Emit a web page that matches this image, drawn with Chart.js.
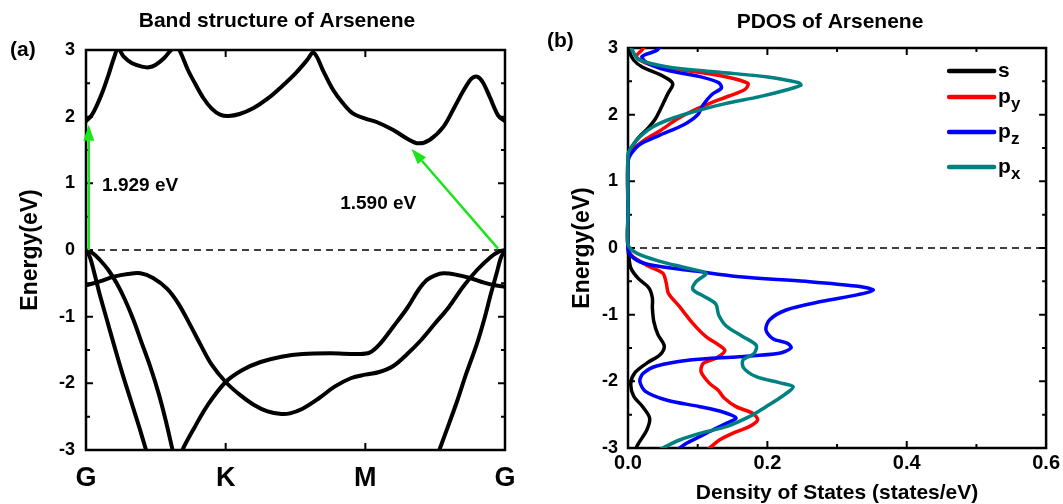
<!DOCTYPE html>
<html>
<head>
<meta charset="utf-8">
<title>Arsenene band structure and PDOS</title>
<script src="https://cdn.jsdelivr.net/npm/chart.js@4.4.1/dist/chart.umd.min.js"></script>
<style>
  body { margin: 0; background: #fff; }
  #wrap { position: relative; width: 1063px; height: 504px; }
  canvas { position: absolute; top: 0; }
</style>
</head>
<body>
<div id="wrap">
  <canvas id="band" width="540" height="504" style="left:0"></canvas>
  <canvas id="pdos" width="523" height="504" style="left:540px"></canvas>
</div>
<script>
// high symmetry points along the path
const kLabels = ['G', 'K', 'M', 'G'];

// bands, [k, E(eV)]
const condBand = [[0,1.93],[0.04,2.02],[0.08,2.18],[0.12,2.38],[0.16,2.62],[0.2,2.88],[0.23,3.02],[0.27,2.9],[0.33,2.8],[0.4,2.75],[0.45,2.74],[0.5,2.78],[0.56,2.88],[0.61,3.0],[0.65,3.05],[0.68,2.95],[0.73,2.7],[0.78,2.5],[0.84,2.28],[0.9,2.12],[0.96,2.03],[1.02,2.01],[1.1,2.04],[1.2,2.13],[1.3,2.27],[1.4,2.45],[1.5,2.65],[1.58,2.84],[1.63,2.96],[1.7,2.68],[1.77,2.4],[1.84,2.2],[1.91,2.05],[2.0,1.97],[2.08,1.92],[2.2,1.8],[2.3,1.67],[2.38,1.6],[2.46,1.65],[2.56,1.85],[2.64,2.15],[2.7,2.38],[2.76,2.57],[2.8,2.6],[2.84,2.52],[2.89,2.3],[2.95,2.02],[3,1.93]];
const valBandA = [[0,0],[0.03,-0.12],[0.06,-0.35],[0.1,-0.68],[0.15,-1.05],[0.2,-1.42],[0.26,-1.85],[0.32,-2.25],[0.38,-2.65],[0.43,-3.0],[0.48,-3.35]];
const valBandB = [[0,0],[0.05,-0.05],[0.1,-0.15],[0.16,-0.3],[0.22,-0.5],[0.28,-0.75],[0.34,-1.05],[0.4,-1.4],[0.46,-1.75],[0.52,-2.15],[0.57,-2.55],[0.62,-3.0],[0.66,-3.35]];
const valBandC = [[0,-0.53],[0.1,-0.47],[0.2,-0.4],[0.3,-0.36],[0.39,-0.35],[0.48,-0.42],[0.58,-0.58],[0.66,-0.8],[0.74,-1.1],[0.82,-1.42],[0.9,-1.72],[1.0,-1.98],[1.1,-2.17],[1.2,-2.32],[1.3,-2.42],[1.4,-2.46],[1.46,-2.45],[1.55,-2.38],[1.67,-2.22],[1.78,-2.05],[1.9,-1.92],[2.0,-1.87],[2.1,-1.83],[2.2,-1.74],[2.3,-1.56],[2.4,-1.35],[2.5,-1.1],[2.6,-0.85],[2.7,-0.55],[2.8,-0.3],[2.9,-0.1],[2.96,-0.02],[3,0]];
const valBandD = [[0.62,-3.35],[0.69,-3.0],[0.78,-2.65],[0.87,-2.33],[1.0,-1.98],[1.12,-1.8],[1.25,-1.68],[1.4,-1.6],[1.55,-1.56],[1.75,-1.55],[1.95,-1.56],[2.03,-1.54],[2.1,-1.42],[2.2,-1.15],[2.3,-0.87],[2.38,-0.6],[2.44,-0.45],[2.5,-0.38],[2.56,-0.35],[2.65,-0.37],[2.75,-0.42],[2.85,-0.49],[2.93,-0.53],[3,-0.55]];
const valBandE = [[3,0],[2.97,-0.12],[2.94,-0.35],[2.9,-0.65],[2.85,-1.05],[2.8,-1.4],[2.72,-1.87],[2.66,-2.25],[2.6,-2.6],[2.53,-3.0],[2.47,-3.35]];

// band gap arrows [k0, E0, k1, E1] and their labels
const gapArrows = [[0.02, 0, 0.02, 1.88], [2.95, 0.02, 2.33, 1.52]];
const gapLabels = ['1.929 eV', '1.590 eV'];
const gapLabelAt = [[0.115, 0.96], [1.82, 0.69]];

// projected DOS, [states/eV, E(eV)]
const dosS = [[0,3.1],[0.002,2.95],[0.008,2.82],[0.021,2.71],[0.046,2.6],[0.062,2.5],[0.064,2.44],[0.058,2.33],[0.052,2.2],[0.046,2.07],[0.039,1.93],[0.029,1.8],[0.013,1.63],[0.004,1.48],[0,1.35],[0,0.5],[0,0],[0.001,-0.1],[0.004,-0.3],[0.015,-0.46],[0.03,-0.6],[0.035,-0.75],[0.035,-0.9],[0.037,-1.1],[0.043,-1.3],[0.052,-1.47],[0.046,-1.6],[0.028,-1.72],[0.01,-1.87],[0.004,-2.03],[0.008,-2.22],[0.021,-2.38],[0.031,-2.55],[0.027,-2.73],[0.014,-2.95],[0.008,-3.1]];
const dosPy = [[0.03,3.1],[0.02,2.97],[0.012,2.87],[0.03,2.76],[0.079,2.67],[0.14,2.57],[0.172,2.47],[0.168,2.38],[0.145,2.28],[0.12,2.18],[0.095,2.07],[0.07,1.93],[0.046,1.76],[0.025,1.63],[0.007,1.48],[0,1.35],[0,0.5],[0,0],[0.007,-0.13],[0.031,-0.28],[0.05,-0.38],[0.055,-0.53],[0.058,-0.68],[0.074,-0.88],[0.093,-1.13],[0.112,-1.33],[0.131,-1.46],[0.139,-1.54],[0.127,-1.65],[0.108,-1.73],[0.105,-1.86],[0.117,-2.03],[0.13,-2.14],[0.138,-2.25],[0.155,-2.38],[0.179,-2.48],[0.186,-2.58],[0.174,-2.68],[0.15,-2.78],[0.131,-2.88],[0.117,-3.0],[0.1,-3.1]];
const dosPz = [[0.05,3.1],[0.042,2.97],[0.02,2.87],[0.03,2.76],[0.055,2.67],[0.103,2.57],[0.13,2.48],[0.134,2.4],[0.12,2.3],[0.108,2.15],[0.1,2.0],[0.08,1.85],[0.045,1.69],[0.018,1.56],[0.005,1.42],[0,1.3],[0,0.5],[0,0],[0.008,-0.15],[0.031,-0.25],[0.1,-0.35],[0.16,-0.43],[0.255,-0.5],[0.327,-0.57],[0.352,-0.63],[0.33,-0.7],[0.279,-0.8],[0.227,-0.93],[0.203,-1.08],[0.198,-1.23],[0.208,-1.36],[0.229,-1.43],[0.234,-1.5],[0.217,-1.58],[0.16,-1.63],[0.089,-1.68],[0.041,-1.77],[0.022,-1.88],[0.017,-2.0],[0.025,-2.15],[0.055,-2.28],[0.103,-2.38],[0.136,-2.46],[0.155,-2.55],[0.141,-2.63],[0.112,-2.78],[0.084,-2.93],[0.074,-3.0],[0.06,-3.1]];
const dosPx = [[0,3.1],[0.006,2.97],[0.015,2.83],[0.055,2.72],[0.127,2.64],[0.198,2.57],[0.245,2.48],[0.248,2.44],[0.227,2.37],[0.189,2.27],[0.141,2.17],[0.103,2.07],[0.065,1.95],[0.036,1.82],[0.017,1.67],[0.005,1.52],[0,1.4],[0,0.5],[0,0.05],[0.013,-0.08],[0.046,-0.2],[0.084,-0.3],[0.112,-0.38],[0.098,-0.5],[0.093,-0.62],[0.11,-0.73],[0.126,-0.84],[0.13,-1.0],[0.141,-1.17],[0.165,-1.33],[0.184,-1.46],[0.181,-1.58],[0.165,-1.68],[0.166,-1.8],[0.184,-1.93],[0.217,-2.02],[0.237,-2.08],[0.222,-2.22],[0.198,-2.38],[0.174,-2.53],[0.141,-2.68],[0.103,-2.78],[0.074,-2.88],[0.05,-3.0],[0.03,-3.1]];

const orbitalNames = ['s', 'p', 'p', 'p'];
const orbitalSubs = ['', 'y', 'z', 'x'];
const orbitalColors = ['#000000', '#ff0000', '#0000ff', '#008080'];

const FONT = '"Liberation Sans", Arial, sans-serif';
Chart.defaults.font.family = FONT;
Chart.defaults.color = '#000';

const pts = arr => arr.map(([x, y]) => ({x, y}));

// box around the plot with inward ticks on all four sides
const framePlugin = {
  id: 'frame',
  beforeDatasetsDraw(chart, args, o) {
    const {ctx, chartArea: a, scales: {x, y}} = chart;
    ctx.save();
    ctx.strokeStyle = '#000';
    ctx.lineWidth = 2;
    ctx.beginPath();
    [[o.xMajor, 7], [o.xMinor, 4]].forEach(([list, len]) => list.forEach(v => {
      const px = x.getPixelForValue(v);
      ctx.moveTo(px, a.bottom); ctx.lineTo(px, a.bottom - len);
      ctx.moveTo(px, a.top); ctx.lineTo(px, a.top + len);
    }));
    [[o.yMajor, 7], [o.yMinor, 4]].forEach(([list, len]) => list.forEach(v => {
      const py = y.getPixelForValue(v);
      ctx.moveTo(a.left, py); ctx.lineTo(a.left + len, py);
      ctx.moveTo(a.right, py); ctx.lineTo(a.right - len, py);
    }));
    ctx.stroke();
    ctx.lineWidth = 2.5;
    ctx.strokeRect(a.left, a.top, a.width, a.height);
    ctx.restore();
  }
};

// panel title and (a)/(b) tag
const captionPlugin = {
  id: 'caption',
  afterDraw(chart, args, o) {
    const {ctx} = chart;
    ctx.save();
    ctx.fillStyle = '#000';
    ctx.textBaseline = 'middle';
    ctx.font = 'bold 21px ' + FONT;
    ctx.textAlign = 'center';
    ctx.fillText(o.title, o.titleX, o.titleY);
    ctx.textAlign = 'left';
    ctx.fillText(o.tag, o.tagX, o.tagY);
    ctx.restore();
  }
};

// green gap arrows + labels
const gapPlugin = {
  id: 'gaps',
  afterDatasetsDraw(chart) {
    const {ctx, scales: {x, y}} = chart;
    ctx.save();
    ctx.strokeStyle = ctx.fillStyle = '#1be41b';
    ctx.lineWidth = 2.5;
    gapArrows.forEach(([k0, e0, k1, e1]) => {
      const x0 = x.getPixelForValue(k0), y0 = y.getPixelForValue(e0);
      const x1 = x.getPixelForValue(k1), y1 = y.getPixelForValue(e1);
      const ang = Math.atan2(y1 - y0, x1 - x0);
      const head = 16, half = 5.5;
      const bx = x1 - head * Math.cos(ang), by = y1 - head * Math.sin(ang);
      ctx.beginPath();
      ctx.moveTo(x0, y0); ctx.lineTo(bx, by);
      ctx.stroke();
      ctx.beginPath();
      ctx.moveTo(x1, y1);
      ctx.lineTo(bx + half * Math.sin(ang), by - half * Math.cos(ang));
      ctx.lineTo(bx - half * Math.sin(ang), by + half * Math.cos(ang));
      ctx.closePath();
      ctx.fill();
    });
    ctx.fillStyle = '#000';
    ctx.font = 'bold 19px ' + FONT;
    ctx.textAlign = 'left';
    ctx.textBaseline = 'middle';
    gapLabels.forEach((t, i) => {
      ctx.fillText(t, x.getPixelForValue(gapLabelAt[i][0]), y.getPixelForValue(gapLabelAt[i][1]));
    });
    ctx.restore();
  }
};

// legend with subscripts (p_y etc.)
const orbitalLegend = {
  id: 'orbLegend',
  afterDatasetsDraw(chart) {
    const {ctx, chartArea: a} = chart;
    const rows = [23, 49, 84, 119];
    const x0 = a.right - 97, x1 = a.right - 52;
    ctx.save();
    ctx.lineWidth = 4.5;
    ctx.lineCap = 'round';
    ctx.textAlign = 'left';
    ctx.textBaseline = 'alphabetic';
    ctx.fillStyle = '#000';
    orbitalNames.forEach((name, i) => {
      const yy = a.top + rows[i];
      ctx.strokeStyle = orbitalColors[i];
      ctx.beginPath();
      ctx.moveTo(x0, yy); ctx.lineTo(x1, yy);
      ctx.stroke();
      ctx.font = 'bold 21px ' + FONT;
      ctx.fillText(name, x1 + 4, yy + 6);
      if (orbitalSubs[i]) {
        const w = ctx.measureText(name).width;
        ctx.font = 'bold 17px ' + FONT;
        ctx.fillText(orbitalSubs[i], x1 + 4 + w, yy + 12);
      }
    });
    ctx.restore();
  }
};

const noGrid = {display: false, drawTicks: false};

new Chart(document.getElementById('band'), {
  type: 'scatter',
  data: {
    datasets: [
      {data: pts([[0, 0], [kLabels.length - 1, 0]]), borderColor: '#000', borderWidth: 1.5, borderDash: [7, 5], order: 9},
      ...[condBand, valBandA, valBandB, valBandC, valBandD, valBandE].map(b => ({
        data: pts(b), borderColor: '#000', borderWidth: 4, tension: 0.35
      }))
    ]
  },
  options: {
    responsive: false,
    animation: false,
    events: [],
    layout: {padding: {top: 50, right: 35, left: 0, bottom: 0}},
    elements: {point: {radius: 0}, line: {capBezierPoints: false}},
    datasets: {scatter: {showLine: true, clip: 0}},
    plugins: {
      legend: {display: false},
      tooltip: {enabled: false},
      frame: {xMajor: [1, 2], xMinor: [], yMajor: [-2, -1, 0, 1, 2], yMinor: [-2.5, -1.5, -0.5, 0.5, 1.5, 2.5]},
      caption: {title: 'Band structure of Arsenene', titleX: 277, titleY: 21, tag: '(a)', tagX: 10, tagY: 50}
    },
    scales: {
      x: {
        type: 'linear', min: 0, max: 3,
        grid: noGrid, border: {display: false},
        ticks: {stepSize: 1, padding: 12, font: {size: 27, weight: 'bold'}, callback: v => kLabels[v]},
        afterFit: s => { s.height = 54; }
      },
      y: {
        min: -3, max: 3,
        grid: noGrid, border: {display: false},
        ticks: {stepSize: 1, padding: 11, font: {size: 18, weight: 'bold'}},
        title: {display: true, text: 'Energy(eV)', font: {size: 23, weight: 'bold'}, padding: {top: 17}},
        afterFit: s => { s.width = 86; }
      }
    }
  },
  plugins: [framePlugin, gapPlugin, captionPlugin]
});

const orbitalData = [dosS, dosPy, dosPz, dosPx];
new Chart(document.getElementById('pdos'), {
  type: 'scatter',
  data: {
    datasets: [
      {data: pts([[0, 0], [0.6, 0]]), borderColor: '#000', borderWidth: 1.5, borderDash: [7, 5], order: 9},
      ...orbitalData.map((d, i) => ({
        label: orbitalNames[i] + orbitalSubs[i],
        data: pts(d), borderColor: orbitalColors[i], borderWidth: 3.5, tension: 0.3,
        order: orbitalData.length - i
      }))
    ]
  },
  options: {
    responsive: false,
    animation: false,
    events: [],
    layout: {padding: {top: 48, right: 16, left: 0, bottom: 0}},
    elements: {point: {radius: 0}, line: {capBezierPoints: false}},
    datasets: {scatter: {showLine: true, clip: {left: 3, top: 0, right: 0, bottom: 0}}},
    plugins: {
      legend: {display: false},
      tooltip: {enabled: false},
      frame: {xMajor: [0.2, 0.4], xMinor: [0.1, 0.3, 0.5], yMajor: [-2, -1, 0, 1, 2], yMinor: [-2.5, -1.5, -0.5, 0.5, 1.5, 2.5]},
      caption: {title: 'PDOS of Arsenene', titleX: 290, titleY: 22, tag: '(b)', tagX: 7, tagY: 41}
    },
    scales: {
      x: {
        type: 'linear', min: 0, max: 0.6,
        grid: noGrid, border: {display: false},
        ticks: {stepSize: 0.2, padding: 3, font: {size: 20, weight: 'bold'}, callback: v => v.toFixed(1)},
        title: {display: true, text: 'Density of States (states/eV)', font: {size: 21, weight: 'bold', lineHeight: 1}, padding: {top: 0, bottom: 0.5}},
        afterFit: s => { s.height = 56; }
      },
      y: {
        min: -3, max: 3,
        grid: noGrid, border: {display: false},
        ticks: {stepSize: 1, padding: 10, font: {size: 18, weight: 'bold'}},
        title: {display: true, text: 'Energy(eV)', font: {size: 23, weight: 'bold'}, padding: {top: 29}},
        afterFit: s => { s.width = 88; }
      }
    }
  },
  plugins: [framePlugin, orbitalLegend, captionPlugin]
});
</script>
</body>
</html>
